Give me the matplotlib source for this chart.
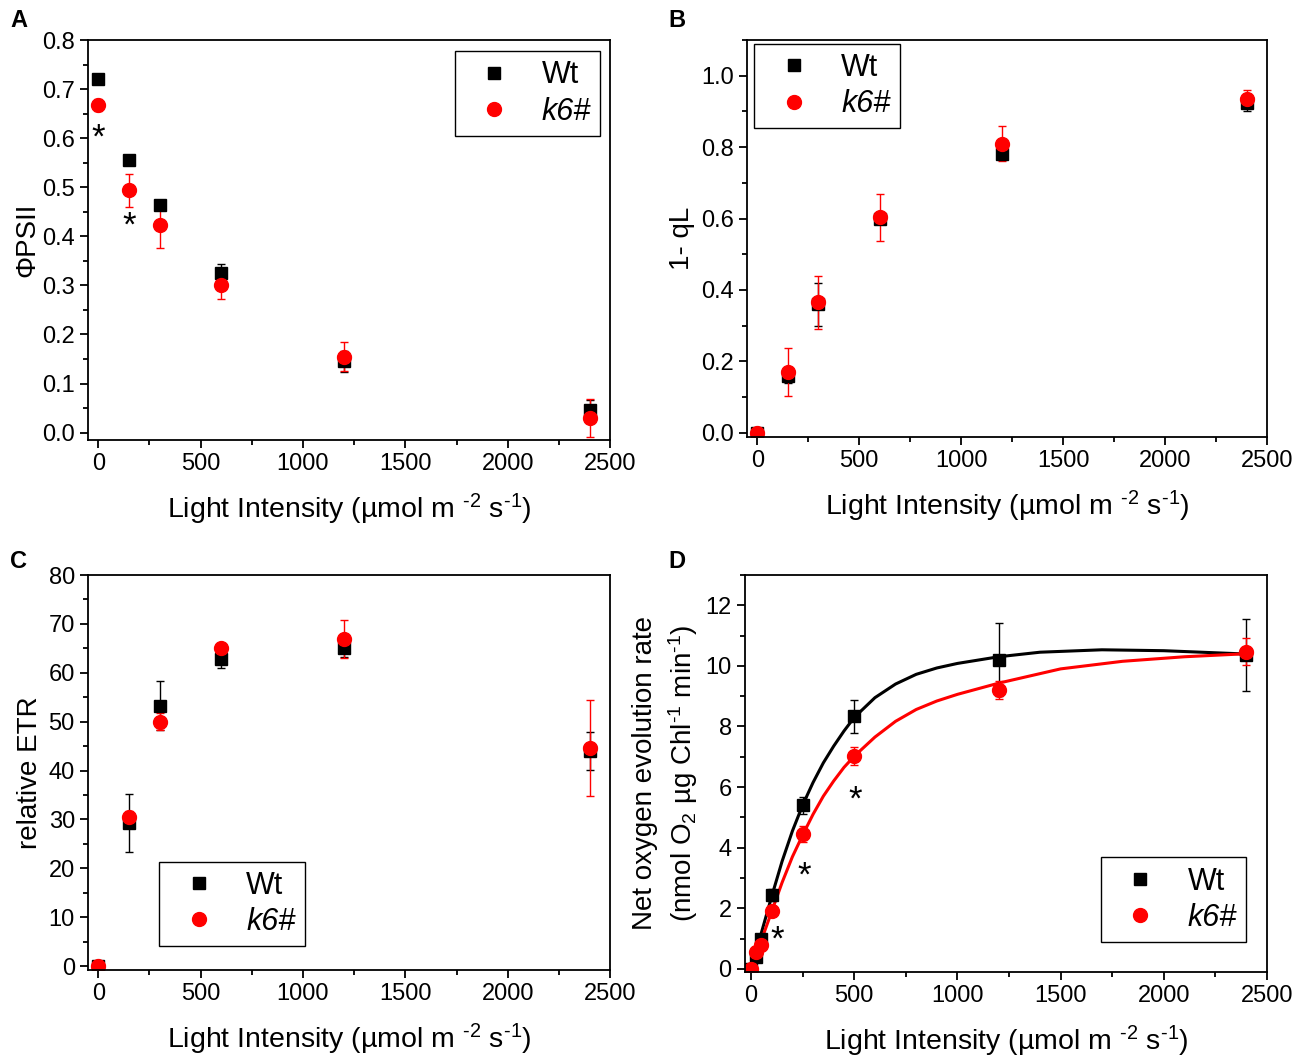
import matplotlib
matplotlib.use("Agg")
import matplotlib.pyplot as plt
from matplotlib.ticker import MultipleLocator
from matplotlib.lines import Line2D
import numpy as np

plt.rcParams['font.family'] = ['Liberation Sans', 'DejaVu Sans']
plt.rcParams['mathtext.fontset'] = 'custom'
plt.rcParams['mathtext.rm'] = 'Liberation Sans'
plt.rcParams['mathtext.it'] = 'Liberation Sans:italic'
plt.rcParams['xtick.direction'] = 'out'
plt.rcParams['ytick.direction'] = 'out'

# light levels
light = [0, 150, 300, 600, 1200, 2400]
light_o2 = [0, 25, 50, 100, 250, 500, 1200, 2400]

# A: PhiPSII
phi_wt = [0.720, 0.555, 0.463, 0.326, 0.145, 0.047]
phi_wt_err = [0.005, 0.005, 0.006, 0.018, 0.022, 0.020]
phi_k6 = [0.667, 0.494, 0.423, 0.300, 0.155, 0.030]
phi_k6_err = [0.012, 0.034, 0.046, 0.028, 0.030, 0.038]

# B: 1-qL
ql_wt = [0.0, 0.160, 0.360, 0.600, 0.780, 0.925]
ql_wt_err = [0.005, 0.020, 0.060, 0.012, 0.012, 0.025]
ql_k6 = [0.0, 0.170, 0.365, 0.603, 0.810, 0.935]
ql_k6_err = [0.005, 0.068, 0.073, 0.065, 0.048, 0.025]

# C: relative ETR
etr_wt = [0.0, 29.3, 53.3, 62.8, 65.0, 44.0]
etr_wt_err = [0.3, 6.0, 5.0, 1.8, 1.8, 3.8]
etr_k6 = [0.0, 30.5, 50.0, 65.0, 67.0, 44.6]
etr_k6_err = [0.3, 1.2, 1.8, 0.5, 3.9, 9.9]

# D: net O2 evolution
o2_wt = [0.0, 0.40, 1.00, 2.45, 5.40, 8.33, 10.20, 10.36]
o2_wt_err = [0.0, 0.10, 0.10, 0.20, 0.28, 0.55, 1.20, 1.20]
o2_k6 = [0.0, 0.56, 0.80, 1.92, 4.45, 7.02, 9.20, 10.47]
o2_k6_err = [0.0, 0.05, 0.10, 0.12, 0.25, 0.30, 0.30, 0.45]

# fitted curves
fit_x_wt = [0, 50, 100, 150, 200, 250, 300, 350, 400, 450, 500, 600, 700, 800, 900,
            1000, 1200, 1400, 1700, 2000, 2400]
fit_y_wt = [0, 1.2, 2.4, 3.55, 4.55, 5.41, 6.15, 6.8, 7.35, 7.85, 8.3, 8.95, 9.4, 9.72, 9.93,
            10.08, 10.3, 10.45, 10.53, 10.5, 10.39]
fit_x_k6 = [0, 50, 100, 150, 200, 250, 300, 350, 400, 450, 500, 600, 700, 800, 900,
            1000, 1200, 1500, 1800, 2100, 2400]
fit_y_k6 = [0, 0.95, 1.9, 2.85, 3.7, 4.42, 5.1, 5.7, 6.2, 6.65, 7.02, 7.65, 8.17, 8.56, 8.84,
            9.06, 9.43, 9.9, 10.15, 10.3, 10.4]

xlab = 'Light Intensity (µmol m $^{\\text{-}2}$ s$^{\\text{-}1}$)'

fig = plt.figure(figsize=(13.06, 10.59), dpi=100)
axA = fig.add_axes([0.0674, 0.5845, 0.3997, 0.3777])
axB = fig.add_axes([0.5720, 0.5873, 0.3982, 0.3749])
axC = fig.add_axes([0.0674, 0.0840, 0.3997, 0.3730])
axD = fig.add_axes([0.5704, 0.0822, 0.3997, 0.3749])


def draw_pts(ax, x, y1, e1, y2, e2):
    ax.errorbar(x, y1, yerr=e1, fmt='s', color='black', ms=9, capsize=3,
                elinewidth=1, capthick=1)
    ax.errorbar(x, y2, yerr=e2, fmt='o', color='red', ms=10, capsize=3,
                elinewidth=1, capthick=1)


def style(ax):
    ax.set_xlim(-50, 2500)
    ax.xaxis.set_major_locator(MultipleLocator(500))
    ax.xaxis.set_minor_locator(MultipleLocator(250))
    ax.tick_params(which='major', length=6, width=1.3, labelsize=17)
    ax.tick_params(which='minor', length=3.5, width=1.3)
    for s in ax.spines.values():
        s.set_linewidth(1.3)
    ax.set_xlabel(xlab, fontsize=20.5, labelpad=12)


def add_legend(ax, loc, anchor):
    hs = [Line2D([], [], ls='none', marker='s', color='black', ms=9),
          Line2D([], [], ls='none', marker='o', color='red', ms=10)]
    leg = ax.legend(hs, ['Wt', 'k6#'], loc=loc, bbox_to_anchor=anchor,
                    borderaxespad=0, fontsize=22, frameon=True, fancybox=False,
                    edgecolor='black', framealpha=1, handletextpad=0.55,
                    borderpad=0.3, labelspacing=0.2, handlelength=2.0)
    leg.get_frame().set_linewidth(1.0)
    leg.get_texts()[1].set_fontstyle('italic')


def star(ax, x, y):
    ax.text(x, y, '*', fontsize=25, ha='center', va='center')


# A
draw_pts(axA, light, phi_wt, phi_wt_err, phi_k6, phi_k6_err)
style(axA)
axA.set_ylim(-0.015, 0.8)
axA.yaxis.set_major_locator(MultipleLocator(0.1))
axA.yaxis.set_minor_locator(MultipleLocator(0.05))
axA.yaxis.set_major_formatter('{x:.1f}')
axA.set_ylabel('ΦPSII', fontsize=20, labelpad=1)
star(axA, 0, 0.600)
star(axA, 150, 0.420)
add_legend(axA, 'upper right', (0.981, 0.972))

# B
draw_pts(axB, light, ql_wt, ql_wt_err, ql_k6, ql_k6_err)
style(axB)
axB.set_ylim(-0.012, 1.1)
axB.yaxis.set_major_locator(MultipleLocator(0.2))
axB.yaxis.set_minor_locator(MultipleLocator(0.1))
axB.yaxis.set_major_formatter('{x:.1f}')
axB.set_ylabel('1- qL', fontsize=20, labelpad=4)
add_legend(axB, 'upper left', (0.0135, 0.99))

# C
draw_pts(axC, light, etr_wt, etr_wt_err, etr_k6, etr_k6_err)
style(axC)
axC.set_ylim(-0.8, 80)
axC.yaxis.set_major_locator(MultipleLocator(10))
axC.yaxis.set_minor_locator(MultipleLocator(5))
axC.set_ylabel('relative ETR', fontsize=20, labelpad=4)
add_legend(axC, 'lower left', (0.136, 0.061))

# D
axD.plot(fit_x_wt, fit_y_wt, color='black', lw=2.2)
axD.plot(fit_x_k6, fit_y_k6, color='red', lw=2.2)
draw_pts(axD, light_o2, o2_wt, o2_wt_err, o2_k6, o2_k6_err)
style(axD)
axD.set_xlim(-30, 2500)
axD.set_ylim(-0.1, 13)
axD.yaxis.set_major_locator(MultipleLocator(2))
axD.yaxis.set_minor_locator(MultipleLocator(1))
axD.set_ylabel('Net oxygen evolution rate\n(nmol O$_2$ µg Chl$^{\\text{-}1}$ min$^{\\text{-}1}$)',
               fontsize=20, labelpad=4, linespacing=1.3)
star(axD, 128, 0.95)
star(axD, 258, 3.05)
star(axD, 506, 5.57)
add_legend(axD, 'lower right', (0.96, 0.0756))

# panel letters
for lbl, x, y in [('A', 0.008, 0.981), ('B', 0.512, 0.981), ('C', 0.008, 0.47), ('D', 0.512, 0.47)]:
    fig.text(x, y, lbl, fontsize=17, fontweight='bold', ha='left', va='center')

fig.savefig('out.png', dpi=100)
